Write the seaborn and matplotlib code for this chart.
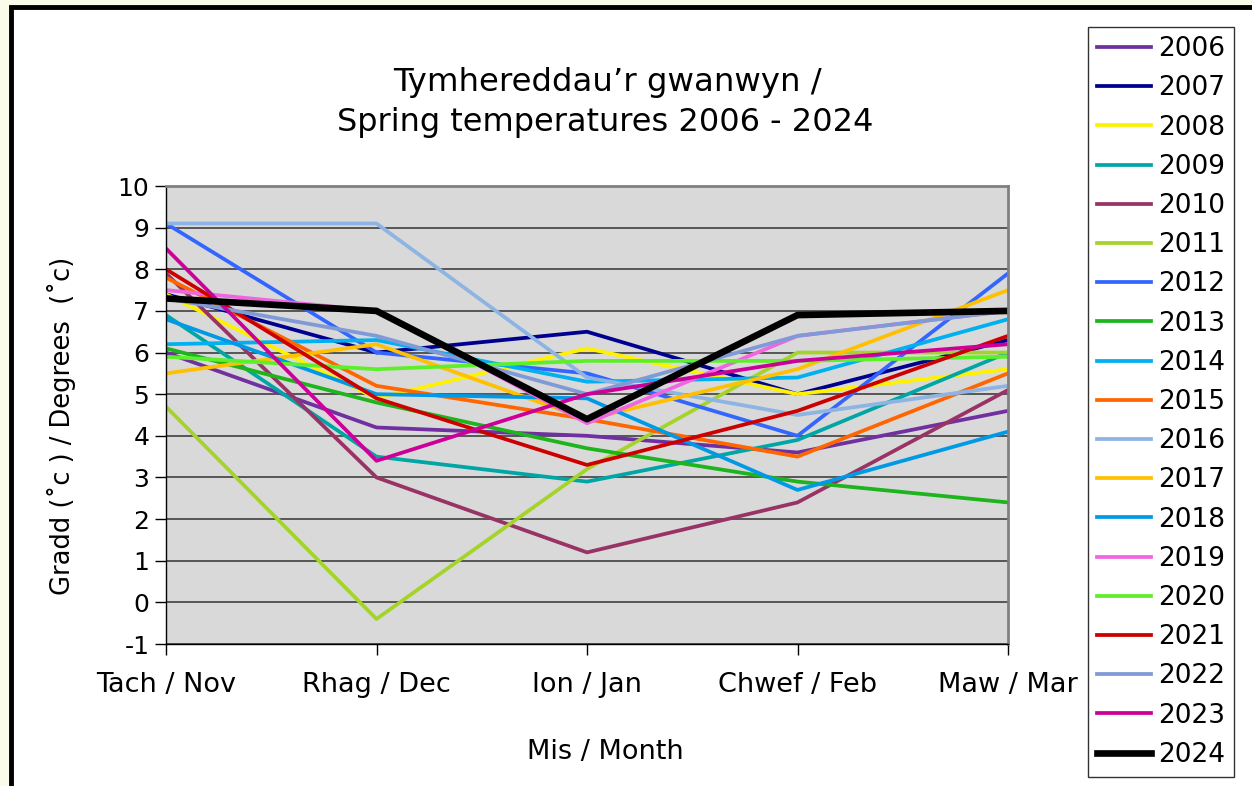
import numpy as np
import pandas as pd
import matplotlib
matplotlib.use('Agg')
import matplotlib.pyplot as plt
import seaborn as sns
from matplotlib.patches import Rectangle

# months and values (deg C)
months = ['Tach / Nov', 'Rhag / Dec', 'Ion / Jan', 'Chwef / Feb', 'Maw / Mar']
years = [str(y) for y in range(2006, 2025)]

t2006 = [6.0, 4.2, 4.0, 3.6, 4.6]
t2007 = [7.4, 6.0, 6.5, 5.0, 6.3]
t2008 = [7.4, 4.9, 6.1, 5.0, 5.6]
t2009 = [6.9, 3.5, 2.9, 3.9, 6.0]
t2010 = [7.9, 3.0, 1.2, 2.4, 5.1]
t2011 = [4.7, -0.4, 3.2, 6.0, 6.0]
t2012 = [9.1, 6.0, 5.5, 4.0, 7.9]
t2013 = [6.1, 4.8, 3.7, 2.9, 2.4]
t2014 = [6.2, 6.3, 5.3, 5.4, 6.8]
t2015 = [7.8, 5.2, 4.4, 3.5, 5.5]
t2016 = [9.1, 9.1, 5.4, 4.5, 5.2]
t2017 = [5.5, 6.2, 4.4, 5.6, 7.5]
t2018 = [6.8, 5.0, 4.9, 2.7, 4.1]
t2019 = [7.5, 7.0, 4.3, 6.4, 7.0]
t2020 = [5.9, 5.6, 5.8, 5.8, 5.9]
t2021 = [8.0, 4.9, 3.3, 4.6, 6.4]
t2022 = [7.3, 6.4, 5.0, 6.4, 7.0]
t2023 = [8.5, 3.4, 5.0, 5.8, 6.2]
t2024 = [7.3, 7.0, 4.4, 6.9, 7.0]

series = [t2006, t2007, t2008, t2009, t2010, t2011, t2012, t2013, t2014, t2015,
          t2016, t2017, t2018, t2019, t2020, t2021, t2022, t2023, t2024]

colours = ['#7030A0', '#000090', '#FFF200', '#00A6A6', '#993366', '#A4D42A',
           '#3366FF', '#1DB41D', '#00B0F0', '#FF6600', '#8DB4E2', '#FFC000',
           '#0099E6', '#F066E0', '#5CF02A', '#CC0000', '#7F9AD6', '#CC0099',
           '#000000']

df = pd.DataFrame({
    'month': months * len(years),
    'temp': np.concatenate(series),
    'year': np.repeat(years, len(months)),
})

W, H = 1252, 786
fig = plt.figure(figsize=(W / 100, H / 100), dpi=100)
fig.patch.set_facecolor('#FAFBE8')
plt.rcParams['font.family'] = ['DejaVu Sans']
plt.rcParams['axes.unicode_minus'] = False

# white chart area with thick black border (behind the axes)
fig.patches.append(Rectangle((11 / W, -0.05), 1.1, 1 - 7 / H + 0.05,
                             transform=fig.transFigure, facecolor='white',
                             edgecolor='black', linewidth=3.5, zorder=-10))

ax = fig.add_axes([166 / W, 1 - 644 / H, (1008 - 166) / W, (644 - 186) / H])
ax.set_facecolor('#D9D9D9')

sizes = {y: 2.7 for y in years}
sizes['2024'] = 4.8
sns.lineplot(data=df, x='month', y='temp', hue='year', size='year',
             palette=colours, sizes=sizes, sort=False, legend=False, ax=ax)

ax.set_xlim(0, 4)
ax.set_ylim(-1, 10)
ax.set_yticks(range(-1, 11))
ax.yaxis.grid(True, color='#333333', linewidth=1.1)
ax.set_axisbelow(True)
ax.tick_params(axis='y', labelsize=18, length=8, width=1, direction='out', pad=4)
ax.tick_params(axis='x', labelsize=19.5, length=8, width=1, direction='out', pad=12)
for side in ['top', 'right']:
    ax.spines[side].set_color('#808080')
    ax.spines[side].set_linewidth(2)
for side in ['left', 'bottom']:
    ax.spines[side].set_color('black')
    ax.spines[side].set_linewidth(1)

ax.set_xlabel('Mis / Month', fontsize=19.5)
ax.xaxis.set_label_coords((605 - 166) / (1008 - 166), (644 - 752) / (644 - 186))
ax.xaxis.label.set_va('center')
ax.set_ylabel('Gradd (\u02dac ) / Degrees  (\u02dac)', fontsize=18.5)
ax.yaxis.set_label_coords((62 - 166) / (1008 - 166), (644 - 426) / (644 - 186))
ax.yaxis.label.set_va('center')

fig.text(607 / W, 1 - 82 / H, 'Tymhereddau\u2019r gwanwyn /', ha='center', va='center', fontsize=23.3)
fig.text(605 / W, 1 - 122 / H, 'Spring temperatures 2006 - 2024', ha='center', va='center', fontsize=23)

leg = fig.legend(ax.get_lines()[:len(years)], years, loc='upper left',
                 bbox_to_anchor=(1088 / W, 1 - 27 / H), fontsize=19,
                 frameon=True, fancybox=False, edgecolor='black',
                 handlelength=2.05, handletextpad=0.25, labelspacing=0.5,
                 borderpad=0.35, borderaxespad=0)
leg.get_frame().set_linewidth(1)

fig.savefig('out.png', dpi=100, facecolor=fig.get_facecolor())
